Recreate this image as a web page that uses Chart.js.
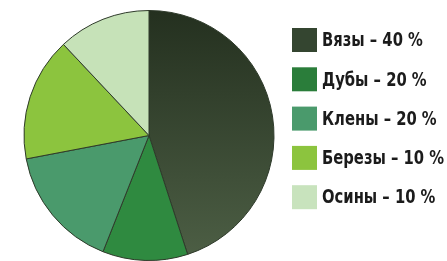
<!DOCTYPE html>
<html>
<head>
<meta charset="utf-8">
<script src="https://cdn.jsdelivr.net/npm/chart.js@4/dist/chart.umd.min.js"></script>
<style>
  html, body { margin: 0; padding: 0; background: #fff; }
  #wrap { width: 447px; height: 261px; position: relative; }
</style>
</head>
<body>
<div id="wrap"><canvas id="myChart" width="447" height="261"></canvas></div>
<script>
// tree kinds, as printed in the legend
var labels = ["Вязы", "Дубы", "Клены", "Березы", "Осины"];
// percent written next to each legend box
var legendPercent = [40, 20, 20, 10, 10];
var sliceValues = [45, 11, 16, 16, 12];
var sliceColors = ["#3a4a32", "#2f8a40", "#4a9a6c", "#8cc43e", "#c6e2b8"];
var boxColors = ["#344530", "#2a7d3a", "#4a9a6c", "#8cc43e", "#c8e3bd"];

// legend drawn by hand so the boxes sit where they do in the picture
var sideLegend = {
  id: 'sideLegend',
  afterDraw: function(chart) {
    var c = chart.ctx;
    c.save();
    c.font = "bold 20px 'DejaVu Sans', sans-serif";
    if ('fontStretch' in c) c.fontStretch = "condensed";
    c.textBaseline = "middle";
    var texts = chart.data.labels.map(function(l, i) { return l + " – " + legendPercent[i] + " %"; });
    // squeeze so the longest line ends at the right edge, like in the picture
    var widest = Math.max.apply(null, texts.map(function(t) { return c.measureText(t).width; }));
    var squeeze = Math.min(1, 122 / widest);
    for (var i = 0; i < texts.length; i++) {
      var y = 28 + i * 39.3;
      c.fillStyle = boxColors[i];
      c.fillRect(292, y, 25, 24);
      c.save();
      c.translate(322, y + 13);
      c.scale(squeeze, 1);
      c.fillStyle = "#1b1b1b";
      c.fillText(texts[i], 0, 0);
      c.restore();
    }
    c.restore();
  }
};

const ctx = document.getElementById('myChart');
var myChart = new Chart(ctx, {
  type: 'pie',
  data: {
    labels: labels,
    datasets: [{
      data: sliceValues,
      backgroundColor: function(context) {
        var i = context.dataIndex;
        var area = context.chart.chartArea;
        if (i === 0 && area) {
          // the big slice fades from very dark at the top to a lighter olive below
          var g = context.chart.ctx.createLinearGradient(0, area.top, 0, area.bottom);
          g.addColorStop(0, "#24301f");
          g.addColorStop(1, "#4d5f45");
          return g;
        }
        return sliceColors[i];
      },
      borderColor: "#2e3a2a",
      borderWidth: 1
    }]
  },
  options: {
    responsive: false,
    animation: false,
    layout: { padding: { left: 22, right: 171, top: 10, bottom: -4 } },
    plugins: {
      legend: { display: false },
      tooltip: { enabled: false }
    }
  },
  plugins: [sideLegend]
});
</script>
</body>
</html>
